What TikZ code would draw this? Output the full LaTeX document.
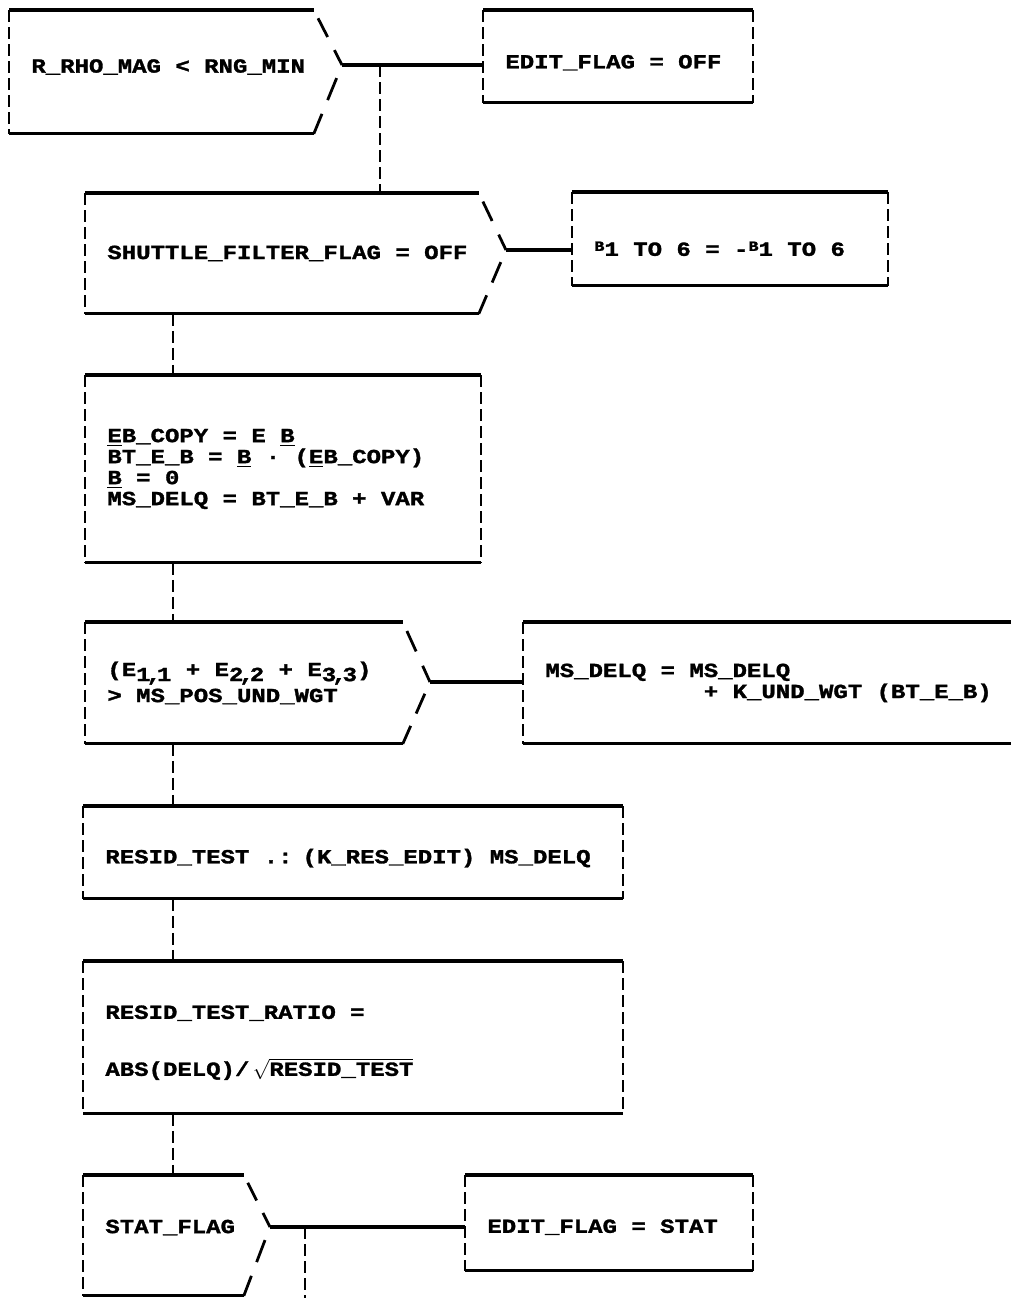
\documentclass[tikz,border=0pt]{standalone}
\usepackage{fontspec}
\setmainfont[FakeStretch=1.2, BoldFeatures={FakeBold=1.5}]{Liberation Mono}
\usetikzlibrary{calc}

\newcommand{\lowr}[2]{\raisebox{-2.5pt}[0pt][0pt]{#1\kern-2pt,\kern-2pt#2}}
\newcommand{\hib}{\raisebox{2.5pt}{\scriptsize B}}
\newcommand{\lift}[1]{\rule[-#1]{0pt}{#1}}
\newcommand{\drop}[1]{\rule{0pt}{#1}}

\newcommand{\frm}[1]{%
  \draw[rule] (#1.north west) -- (#1.north east) (#1.south west) -- (#1.south east);
  \draw[side] (#1.north west) -- (#1.south west) (#1.north east) -- (#1.south east);}
\newcommand{\frmopen}[1]{%
  \draw[rule] (#1.north west) -- (#1.north east) (#1.south west) -- (#1.south east);
  \draw[side] (#1.north west) -- (#1.south west);}
\newcommand{\dec}[2]{%
  \draw[rule] (#1.north west) -- (#1.north east) (#1.south west) -- (#1.south east);
  \draw[side] (#1.north west) -- (#1.south west);
  \draw[slant] ($(#1.north east)!.15!(#2)$) -- ($(#1.north east)!.49!(#2)$)
               ($(#1.north east)!.73!(#2)$) -- (#2);
  \draw[slant] ($(#2)!.19!(#1.south east)$) -- ($(#2)!.51!(#1.south east)$)
               ($(#2)!.71!(#1.south east)$) -- (#1.south east);}

\begin{document}
\begin{tikzpicture}[x=0.5pt, y=-0.5pt,
    frame/.style={anchor=north west, inner xsep=0pt, inner ysep=0pt, align=left,
      execute at begin node={\leftskip=11pt\spaceskip=7.2pt\relax},
      font=\bfseries\fontsize{10}{10.5}\selectfont},
    rule/.style={line width=1.6pt},
    side/.style={line width=1.3pt, dash pattern=on 6pt off 2.5pt},
    slant/.style={line width=1.4pt},
    link/.style={line width=1.6pt},
    vlink/.style={line width=1.3pt, dash pattern=on 6pt off 2.5pt}
]
    \useasboundingbox (0,0) rectangle (1011,1298);

    \node[frame, text width=152pt, minimum height=61.5pt] (rho) at (9,10) {\lift{6pt}R\_RHO\_MAG < RNG\_MIN};
    \node[frame, text width=134.5pt, minimum height=46pt] (edit1) at (483,10) {\drop{13pt}EDIT\_FLAG = OFF};
    \node[frame, text width=196.5pt, minimum height=60pt] (shuttle) at (85,193) {SHUTTLE\_FILTER\_FLAG = OFF};
    \node[frame, text width=157.5pt, minimum height=46.5pt] (flip) at (572,192) {\drop{17pt}\hib 1 TO 6 = -\hib 1 TO 6};
    \node[frame, text width=197.5pt, minimum height=93.5pt] (copy) at (85,375)
        {\underline{E}B\_COPY = E \underline{B}\\
         BT\_E\_B = \underline{B} · (\underline{E}B\_COPY)\\
         \underline{B} = 0\\
         MS\_DELQ = BT\_E\_B + VAR};
    \node[frame, text width=158.5pt, minimum height=60.5pt] (trace) at (85,622)
        {(E\lowr{1}{1} + E\lowr{2}{2} + E\lowr{3}{3})\\[2.5pt]
         > MS\_POS\_UND\_WGT};
    \node[frame, text width=248.5pt, minimum height=60.5pt] (undwgt) at (523,622)
        {MS\_DELQ = MS\_DELQ\\
         \phantom{MS\_DELQ = M}+ K\_UND\_WGT (BT\_E\_B)};
    \node[frame, text width=269.5pt, minimum height=46pt] (resid) at (83,806)
        {\drop{13pt}RESID\_TEST .: (K\_RES\_EDIT) MS\_DELQ};
    \node[frame, text width=269.5pt, minimum height=76pt] (ratio) at (83,961)
        {\drop{12pt}RESID\_TEST\_RATIO =\\[18pt]
         ABS(DELQ)/\,$\smash{\sqrt{\hbox{RESID\_TEST}}}$};
    \node[frame, text width=80pt, minimum height=60pt] (stat) at (83,1175) {\lift{9pt}STAT\_FLAG};
    \node[frame, text width=143.5pt, minimum height=47.5pt] (edit2) at (465,1175) {\drop{11pt}EDIT\_FLAG = STAT};

    \coordinate (p1) at (342,65);
    \coordinate (p2) at (506,250);
    \coordinate (p3) at (430,682);
    \coordinate (p4) at (270,1227);
    \coordinate (j1) at (380,65);
    \coordinate (j4) at (305,1227);
    \coordinate (out) at (305,1298);
    \coordinate (spine) at (173,0);

    \dec{rho}{p1}
    \frm{edit1}
    \dec{shuttle}{p2}
    \frm{flip}
    \frm{copy}
    \dec{trace}{p3}
    \frmopen{undwgt}
    \frm{resid}
    \frm{ratio}
    \dec{stat}{p4}
    \frm{edit2}

    \draw[link] (p1) -- (edit1.west |- p1);
    \draw[vlink] (j1) -- (j1 |- shuttle.north);
    \draw[link] (p2) -- (flip.west |- p2);
    \draw[vlink] (shuttle.south -| spine) -- (copy.north -| spine);
    \draw[vlink] (copy.south -| spine) -- (trace.north -| spine);
    \draw[link] (p3) -- (undwgt.west |- p3);
    \draw[vlink] (trace.south -| spine) -- (resid.north -| spine);
    \draw[vlink] (resid.south -| spine) -- (ratio.north -| spine);
    \draw[vlink] (ratio.south -| spine) -- (stat.north -| spine);
    \draw[link] (p4) -- (edit2.west |- p4);
    \draw[vlink] (j4) -- (out);
\end{tikzpicture}
\end{document}
